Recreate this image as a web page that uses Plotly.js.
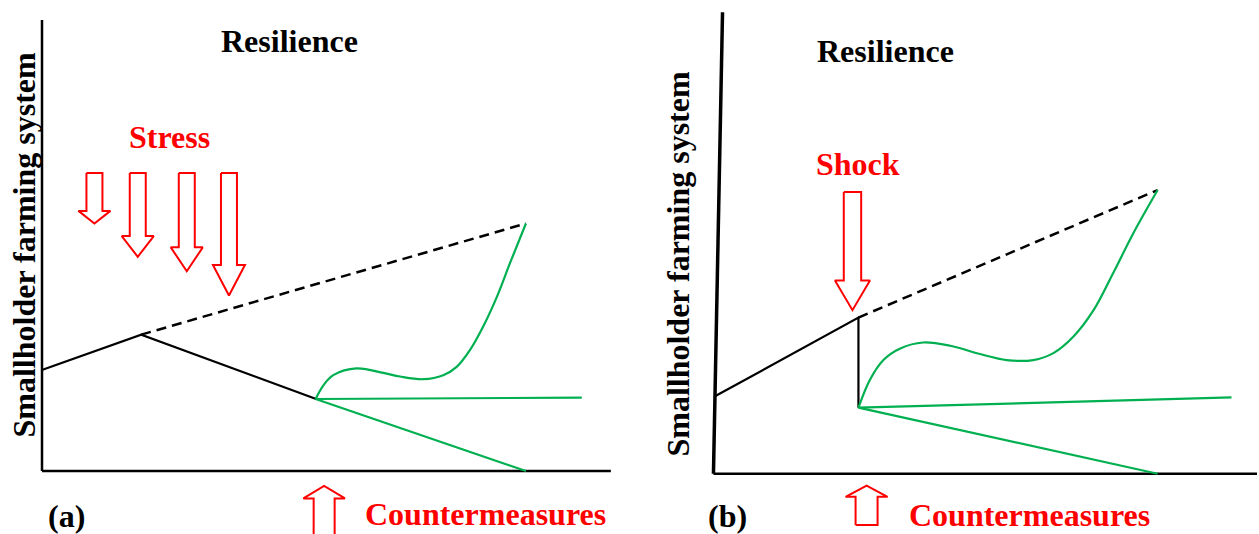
<!DOCTYPE html>
<html><head><meta charset="utf-8">
<script src="https://cdn.plot.ly/plotly-3.0.1.min.js"></script>
<style>html,body{margin:0;padding:0;background:#fff}#chart{width:1259px;height:534px}</style>
</head><body><div id="chart"></div>
<script>
// ---------- Panel (a): gradual stress ----------
const aBaseX = [0.1, 17.4, 48.1];
const aBaseY = [22.5, 30.3, 16.0];
const aPotentialX = [17.4, 84.9];
const aPotentialY = [30.3, 55.0];
const aRecoverX = [48.0, 49.4, 51.1, 55.2, 59.9, 62.8, 66.9, 70.4, 72.8, 75.1, 77.4, 79.8, 82.1, 84.9];
const aRecoverY = [16.0, 19.1, 21.3, 22.8, 21.8, 21.0, 20.4, 21.3, 23.2, 26.9, 32.1, 38.7, 46.2, 55.0];
const aStableX = [48.0, 94.7];
const aStableY = [16.0, 16.3];
const aDeclineX = [48.0, 84.9];
const aDeclineY = [16.0, 0.0];
const aStressX = [9.2, 16.8, 25.4, 32.8];
const aStressTop = [66.2, 66.2, 66.2, 66.2];
const aStressHead = [57.8, 52.2, 49.7, 45.8];
const aStressTip = [55.0, 47.6, 44.4, 39.0];
const aCounterX = 49.5, aCounterTip = -3.3, aCounterHead = -6.1, aCounterBottom = -16;

// ---------- Panel (b): sudden shock ----------
const bAxisYX = [-0.1, 1.57];
const bAxisYY = [0, 99.9];
const bBaseX = [0.26, 26.6, 26.6];
const bBaseY = [16.8, 33.8, 14.3];
const bPotentialX = [26.6, 81.7];
const bPotentialY = [33.8, 61.4];
const bRecoverX = [26.6, 28.7, 31.2, 34.3, 38.5, 43.5, 49.0, 53.9, 58.8, 62.5, 66.2, 69.9, 73.5, 77.2, 81.7];
const bRecoverY = [14.3, 20.3, 24.6, 27.1, 28.4, 27.7, 25.9, 24.6, 24.6, 26.1, 29.7, 35.4, 43.4, 52.0, 61.4];
const bStableX = [26.6, 95.3];
const bStableY = [14.3, 16.5];
const bDeclineX = [26.6, 81.7];
const bDeclineY = [14.3, 0.0];
const bShockX = 25.5, bShockTop = 61.0, bShockHead = 41.8, bShockTip = 35.4;
const bCounterX = 28.1, bCounterTip = -2.6, bCounterHead = -5.0, bCounterBottom = -11.1;

const labels = {
  resilience: 'Resilience', stress: 'Stress', shock: 'Shock',
  counter: 'Countermeasures', yTitle: 'Smallholder farming system', a: '(a)', b: '(b)'
};

// ---------- layout geometry (pixels) ----------
const W = 1259, H = 534;
const A = {x0: 42, y0: 471, sx: 5.7, sy: 4.5, d: [0, 0.5]};
const B = {x0: 714, y0: 473.7, sx: 5.43, sy: 4.62, d: [0.5, 1]};
function xr(P) { return [(P.d[0]*W - P.x0)/P.sx, (P.d[1]*W - P.x0)/P.sx]; }
function yr(P) { return [(P.y0 - H)/P.sy, P.y0/P.sy]; }

const BLACK = '#000000', GREEN = '#00B050', RED = '#FF0000';
const serif = '"Liberation Serif", "Times New Roman", serif';

function line(x, y, xa, ya, color, width, dash, shape) {
  return {x, y, xaxis: xa, yaxis: ya, type: 'scatter', mode: 'lines', hoverinfo: 'skip',
    line: {color, width, dash: dash || 'solid', shape: shape || 'linear', smoothing: 1}};
}
function downArrow(cx, top, hs, tip, sHalf, hHalf, xa, ya) {
  const x = [cx-sHalf, cx+sHalf, cx+sHalf, cx+hHalf, cx, cx-hHalf, cx-sHalf, cx-sHalf];
  const y = [top, top, hs, hs, tip, hs, hs, top];
  return {x, y, xaxis: xa, yaxis: ya, type: 'scatter', mode: 'lines', fill: 'toself',
    fillcolor: '#ffffff', hoverinfo: 'skip', line: {color: RED, width: 2}};
}
function upArrow(cx, tip, hb, bottom, sHalf, hHalf, xa, ya) {
  const x = [cx-sHalf, cx-sHalf, cx-hHalf, cx, cx+hHalf, cx+sHalf, cx+sHalf, cx-sHalf];
  const y = [bottom, hb, hb, tip, hb, hb, bottom, bottom];
  return {x, y, xaxis: xa, yaxis: ya, type: 'scatter', mode: 'lines', fill: 'toself',
    fillcolor: '#ffffff', hoverinfo: 'skip', line: {color: RED, width: 2}};
}

const traces = [];
// panel a axes
traces.push(line([0, 0], [0, 100.2], 'x', 'y', BLACK, 2.5));
traces.push(line([0, 99.8], [0, 0], 'x', 'y', BLACK, 2.5));
traces.push(line(aBaseX, aBaseY, 'x', 'y', BLACK, 2.2));
traces.push(line(aPotentialX, aPotentialY, 'x', 'y', BLACK, 2.5, '10px,6px'));
traces.push(line(aRecoverX, aRecoverY, 'x', 'y', GREEN, 2.2, 'solid', 'spline'));
traces.push(line(aStableX, aStableY, 'x', 'y', GREEN, 2.2));
traces.push(line(aDeclineX, aDeclineY, 'x', 'y', GREEN, 2.2));
for (let i = 0; i < aStressX.length; i++) {
  traces.push(downArrow(aStressX[i], aStressTop[i], aStressHead[i], aStressTip[i], 8/A.sx, 16/A.sx, 'x', 'y'));
}
traces.push(upArrow(aCounterX, aCounterTip, aCounterHead, aCounterBottom, 10.5/A.sx, 20.8/A.sx, 'x', 'y'));

// panel b
traces.push(line(bAxisYX, bAxisYY, 'x2', 'y2', BLACK, 3.5));
traces.push(line([-0.1, 100], [0, 0], 'x2', 'y2', BLACK, 2.5));
traces.push(line(bBaseX, bBaseY, 'x2', 'y2', BLACK, 2.2));
traces.push(line(bPotentialX, bPotentialY, 'x2', 'y2', BLACK, 2.5, '10px,6px'));
traces.push(line(bRecoverX, bRecoverY, 'x2', 'y2', GREEN, 2.2, 'solid', 'spline'));
traces.push(line(bStableX, bStableY, 'x2', 'y2', GREEN, 2.2));
traces.push(line(bDeclineX, bDeclineY, 'x2', 'y2', GREEN, 2.2));
traces.push(downArrow(bShockX, bShockTop, bShockHead, bShockTip, 8.7/B.sx, 17.5/B.sx, 'x2', 'y2'));
traces.push(upArrow(bCounterX, bCounterTip, bCounterHead, bCounterBottom, 11/B.sx, 21/B.sx, 'x2', 'y2'));

function ann(text, x, y, xref, yref, color, opts) {
  return Object.assign({text, x, y, xref, yref, showarrow: false,
    font: {family: serif, size: 32, color, weight: 700}, xanchor: 'center', yanchor: 'middle'}, opts || {});
}
const annotations = [
  ann(labels.resilience, 43.5, 95.6, 'x', 'y', BLACK),
  ann(labels.stress, 22.3, 74.2, 'x', 'y', RED),
  ann(labels.counter, 56.4, -9.6, 'x', 'y', RED, {xanchor: 'left'}),
  ann(labels.a, 4.3, -10.0, 'x', 'y', BLACK),
  ann(labels.yTitle, -3.1, 50.4, 'x', 'y', BLACK, {textangle: -90}),
  ann(labels.resilience, 31.5, 91.6, 'x2', 'y2', BLACK),
  ann(labels.shock, 26.5, 67.0, 'x2', 'y2', RED),
  ann(labels.counter, 35.5, -9.0, 'x2', 'y2', RED, {xanchor: 'left'}),
  ann(labels.b, 2.4, -9.2, 'x2', 'y2', BLACK),
  ann(labels.yTitle, -6.7, 45.4, 'x2', 'y2', BLACK, {textangle: -90})
];

const hidden = {visible: false, fixedrange: true, showgrid: false, zeroline: false};
const layout = {
  width: W, height: H, margin: {l: 0, r: 0, t: 0, b: 0, pad: 0},
  paper_bgcolor: '#ffffff', plot_bgcolor: 'rgba(0,0,0,0)', showlegend: false,
  xaxis: Object.assign({domain: A.d, range: xr(A), anchor: 'y'}, hidden),
  yaxis: Object.assign({domain: [0, 1], range: yr(A), anchor: 'x'}, hidden),
  xaxis2: Object.assign({domain: B.d, range: xr(B), anchor: 'y2'}, hidden),
  yaxis2: Object.assign({domain: [0, 1], range: yr(B), anchor: 'x2'}, hidden),
  annotations
};
Plotly.newPlot('chart', traces, layout, {staticPlot: true, displayModeBar: false});
</script></body></html>
